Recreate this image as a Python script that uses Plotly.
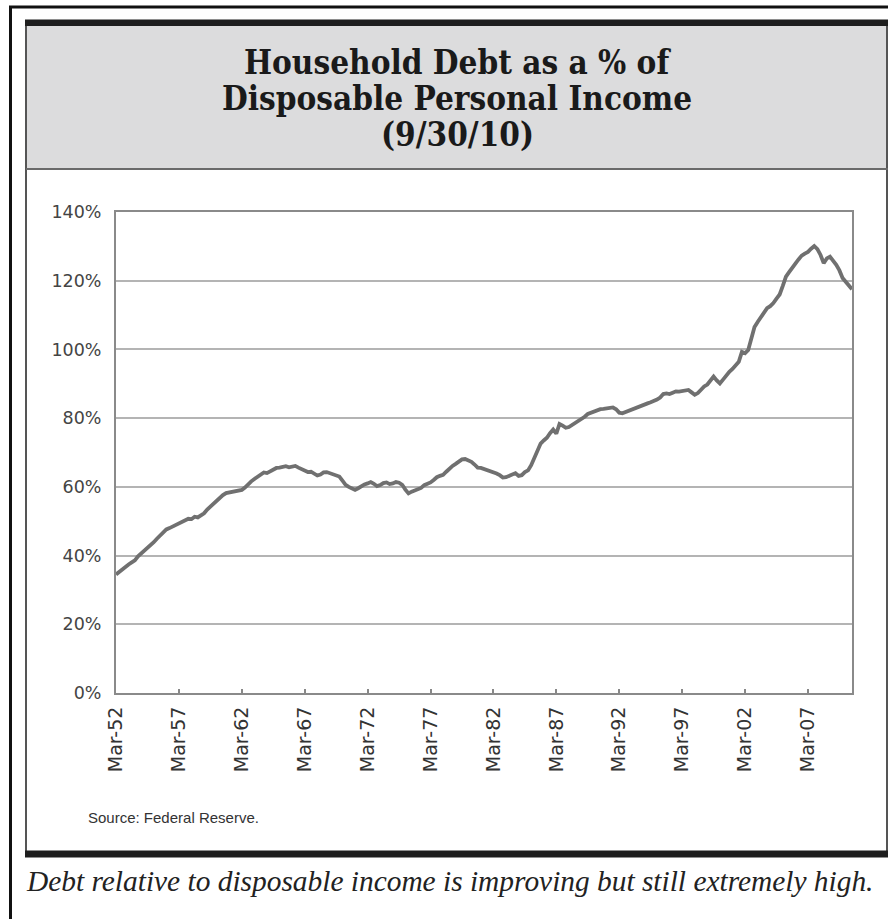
import plotly.graph_objects as go

# ---- data (quarterly, Mar-52 .. Sep-10), % of disposable personal income ----
years = list(range(1952, 2011))
months = ["Mar", "Jun", "Sep", "Dec"]

debt_pct = [
    34.5, 35.3, 36.0, 36.6,   # 1952
    37.4, 38.0, 38.6, 39.8,   # 1953
    40.6, 41.3, 42.2, 43.2,   # 1954
    43.9, 44.9, 45.9, 46.9,   # 1955
    47.6, 48.0, 48.5, 48.9,   # 1956
    49.3, 49.8, 50.2, 50.7,   # 1957
    50.6, 51.3, 51.1, 51.7,   # 1958
    52.3, 53.4, 54.3, 55.2,   # 1959
    55.9, 56.8, 57.6, 58.2,   # 1960
    58.4, 58.7, 58.9, 59.0,   # 1961
    59.1, 59.8, 60.8, 61.6,   # 1962
    62.3, 63.0, 63.8, 64.2,   # 1963
    64.0, 64.5, 65.1, 65.5,   # 1964
    65.6, 65.9, 66.0, 65.7,   # 1965
    65.9, 66.1, 65.6, 65.2,   # 1966
    64.8, 64.3, 64.4, 63.8,   # 1967
    63.3, 63.6, 64.2, 64.3,   # 1968
    64.0, 63.8, 63.4, 63.0,   # 1969
    61.8, 60.6, 60.0, 59.4,   # 1970
    59.1, 59.6, 60.3, 60.7,   # 1971
    61.0, 61.4, 60.9, 60.2,   # 1972
    60.5, 61.1, 61.3, 60.8,   # 1973
    61.0, 61.4, 61.2, 60.6,   # 1974
    59.2, 58.1, 58.6, 58.9,   # 1975
    59.2, 59.7, 60.5, 60.8,   # 1976
    61.3, 62.0, 62.8, 63.2,   # 1977
    63.5, 64.4, 65.3, 66.1,   # 1978
    66.7, 67.4, 68.0, 68.1,   # 1979
    67.8, 67.3, 66.5, 65.6,   # 1980
    65.5, 65.2, 64.9, 64.6,   # 1981
    64.1, 63.9, 63.4, 62.7,   # 1982
    62.8, 63.3, 63.7, 64.0,   # 1983
    63.2, 63.4, 64.3, 64.8,   # 1984
    66.3, 68.2, 70.5, 72.6,   # 1985
    73.5, 74.3, 75.6, 76.7,   # 1986
    75.5, 78.3, 77.8, 77.2,   # 1987
    77.4, 78.0, 78.6, 78.9,   # 1988
    79.6, 80.4, 81.2, 81.6,   # 1989
    81.8, 82.2, 82.6, 82.7,   # 1990
    82.8, 82.9, 83.1, 82.6,   # 1991
    81.6, 81.4, 81.8, 82.1,   # 1992
    82.4, 82.9, 83.4, 83.8,   # 1993
    84.0, 84.3, 84.6, 84.9,   # 1994
    85.4, 86.0, 87.0, 87.2,   # 1995
    87.0, 87.4, 87.8, 87.7,   # 1996
    87.9, 88.1, 88.2, 87.5,   # 1997
    86.8, 87.3, 88.3, 89.2,   # 1998
    89.8, 91.0, 92.1, 91.0,   # 1999
    90.1, 91.2, 92.4, 93.5,   # 2000
    94.3, 95.3, 96.4, 99.3,   # 2001
    98.9, 99.8, 103.0, 106.5, # 2002
    108.0, 109.5, 111.0, 112.0, # 2003
    112.6, 113.5, 114.8, 116.0, # 2004
    118.5, 121.2, 122.5, 124.0, # 2005
    125.0, 126.2, 127.3, 127.9, # 2006
    128.4, 129.3, 130.1, 129.2, # 2007
    127.5, 125.1, 126.5, 127.0, # 2008
    126.0, 124.6, 123.0, 120.8, # 2009
    119.7, 118.4, 117.5,        # 2010
]

quarters = [f"{m}-{str(y)[2:]}" for y in years for m in months][:len(debt_pct)]
tick_labels = quarters[::20]

y_ticks = [0, 20, 40, 60, 80, 100, 120, 140]

title_lines = ["Household Debt as a % of", "Disposable Personal Income", "(9/30/10)"]
source_text = "Source: Federal Reserve."
caption_text = "Debt relative to disposable income is improving but still extremely high."

# ---- geometry helpers (pixel -> paper) ----
W, H = 888, 919
L, R, T, B = 116, 852, 212, 693


def px(p):
    return (p - L) / (R - L)


def py(p):
    return (B - p) / (B - T)


fig = go.Figure()
fig.add_trace(go.Scatter(
    x=quarters, y=debt_pct, mode="lines",
    line=dict(color="#707070", width=3.8),
    hoverinfo="x+y", showlegend=False,
))

shapes = [
    # outer black frame
    dict(type="rect", xref="paper", yref="paper", x0=px(10.5), x1=px(900), y0=py(7), y1=py(940),
         line=dict(color="#111111", width=3), layer="above"),
    # header grey fill
    dict(type="rect", xref="paper", yref="paper", x0=px(26), x1=px(887), y0=py(26), y1=py(169),
         fillcolor="#dcdcdd", line=dict(width=0), layer="below"),
    # inner box
    dict(type="rect", xref="paper", yref="paper", x0=px(26), x1=px(887), y0=py(22), y1=py(855),
         line=dict(color="#555555", width=2), layer="above"),
    # top black bar
    dict(type="rect", xref="paper", yref="paper", x0=px(25), x1=px(890), y0=py(19.5), y1=py(26),
         fillcolor="#1e1e1e", line=dict(width=0), layer="above"),
    # header bottom rule
    dict(type="line", xref="paper", yref="paper", x0=px(26), x1=px(890), y0=py(169), y1=py(169),
         line=dict(color="#6a6a6a", width=2), layer="above"),
    # bottom black bar
    dict(type="rect", xref="paper", yref="paper", x0=px(25), x1=px(890), y0=py(850.5), y1=py(857.5),
         fillcolor="#1e1e1e", line=dict(width=0), layer="above"),
]

annotations = []
for text, yc in zip(title_lines, [62, 98, 134]):
    annotations.append(dict(
        text=f"<b>{text}</b>", xref="paper", yref="paper", x=px(457), y=py(yc),
        xanchor="center", yanchor="middle", showarrow=False,
        font=dict(family="DejaVu Serif Condensed, DejaVu Serif", size=33, color="#1a1a1a"),
    ))
annotations.append(dict(
    text=source_text, xref="paper", yref="paper", x=px(86), y=py(817),
    xanchor="left", yanchor="middle", showarrow=False,
    font=dict(family="Liberation Sans, Arial", size=15, color="#333333"),
))
annotations.append(dict(
    text=f"<i>{caption_text}</i>", xref="paper", yref="paper", x=px(24), y=py(881),
    xanchor="left", yanchor="middle", showarrow=False,
    font=dict(family="Liberation Serif, serif", size=29.4, color="#222222"),
))

fig.update_layout(
    width=W, height=H,
    margin=dict(l=L, r=W - R, t=T, b=H - B, pad=0),
    paper_bgcolor="white", plot_bgcolor="white",
    shapes=shapes, annotations=annotations,
    xaxis=dict(
        type="category", range=[0, len(debt_pct) - 1],
        tickmode="array", tickvals=tick_labels, ticktext=tick_labels,
        tickangle=-90, ticks="inside", ticklen=4, tickcolor="#888888", tickwidth=1.5,
        showline=True, linecolor="#8a8a8a", linewidth=2, mirror=True,
        showgrid=False, zeroline=False, ticklabelstandoff=4,
        tickfont=dict(family="DejaVu Sans", size=19, color="#333333"),
    ),
    yaxis=dict(
        range=[0, 140], tickmode="array", tickvals=y_ticks,
        ticktext=[f"{v}%" for v in y_ticks],
        showline=True, linecolor="#8a8a8a", linewidth=2, mirror=True,
        showgrid=True, gridcolor="#b4b4b4", gridwidth=1.6, zeroline=False,
        ticks="", ticklabelstandoff=9,
        tickfont=dict(family="DejaVu Sans", size=17.5, color="#444444"),
    ),
)

fig.write_html(
    "out.html",
    config={"displayModeBar": False},
    post_script="document.body.style.margin='0';document.body.style.overflow='hidden';",
)
